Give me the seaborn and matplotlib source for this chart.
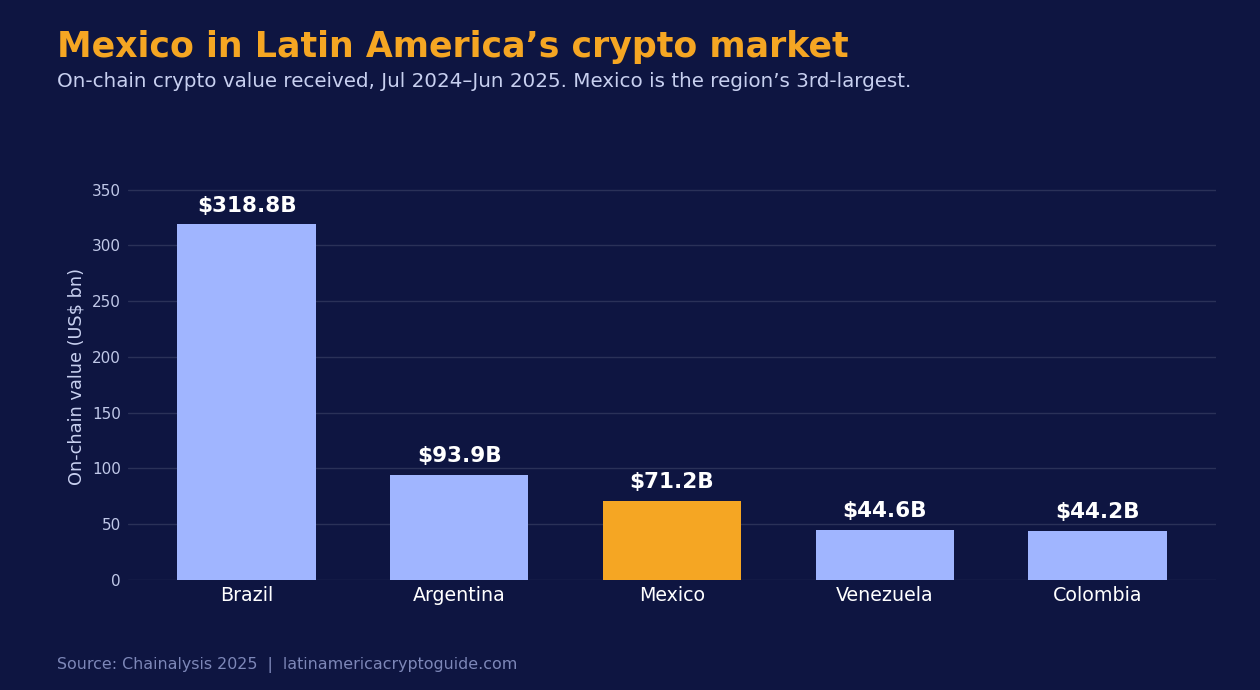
import numpy as np
import pandas as pd
import matplotlib
matplotlib.use("Agg")
from matplotlib import pyplot as plt
import seaborn as sns

countries = ["Brazil", "Argentina", "Mexico", "Venezuela", "Colombia"]
values = [318.8, 93.9, 71.2, 44.6, 44.2]
value_labels = ["$318.8B", "$93.9B", "$71.2B", "$44.6B", "$44.2B"]
highlight = "Mexico"
yticks = [0, 50, 100, 150, 200, 250, 300, 350]

bg = "#0e1541"
blue = "#a0b5ff"
orange = "#f5a623"

df = pd.DataFrame({"country": countries, "value": values})
palette = {c: (orange if c == highlight else blue) for c in countries}

sns.set_theme(style="dark")
plt.rcParams["font.family"] = ["DejaVu Sans"]

fig = plt.figure(figsize=(12.6, 6.9), dpi=100, facecolor=bg)
ax = fig.add_axes([0.1016, 0.1594, 0.8635, 0.59])
ax.set_facecolor(bg)

sns.barplot(data=df, x="country", y="value", hue="country", palette=palette,
            width=0.65, saturation=1, legend=False, ax=ax, zorder=3,
            linewidth=0, edgecolor="none")

for i, (v, lab) in enumerate(zip(values, value_labels)):
    ax.text(i, v + 8, lab, ha="center", va="bottom", color="white",
            fontsize=15.5, fontweight="bold", zorder=4)

ax.set_xlim(-0.5575, 4.5575)
ax.set_ylim(0, 365)
ax.set_yticks(yticks)
ax.yaxis.grid(True, color="#2a3158", linewidth=1)
ax.xaxis.grid(False)
for s in ax.spines.values():
    s.set_visible(False)
ax.tick_params(axis="y", colors="#c0c8e8", labelsize=11, length=0, pad=5)
ax.tick_params(axis="x", colors="white", labelsize=13.7, length=0, pad=4)
ax.set_xlabel("")
ax.set_ylabel("On-chain value (US$ bn)", color="#c8d0f0", fontsize=12.8, labelpad=4.5)

fig.text(0.045, 0.918, "Mexico in Latin America\u2019s crypto market", color=orange,
         fontsize=25, fontweight="bold", va="baseline")
fig.text(0.045, 0.874, "On-chain crypto value received, Jul 2024\u2013Jun 2025. Mexico is the region\u2019s 3rd-largest.",
         color="#c8d0f0", fontsize=14.35, va="baseline")
fig.text(0.045, 0.03, "Source: Chainalysis 2025  |  latinamericacryptoguide.com",
         color="#7d87b8", fontsize=11.4, va="baseline")

fig.savefig("out.png", dpi=100, facecolor=bg)
